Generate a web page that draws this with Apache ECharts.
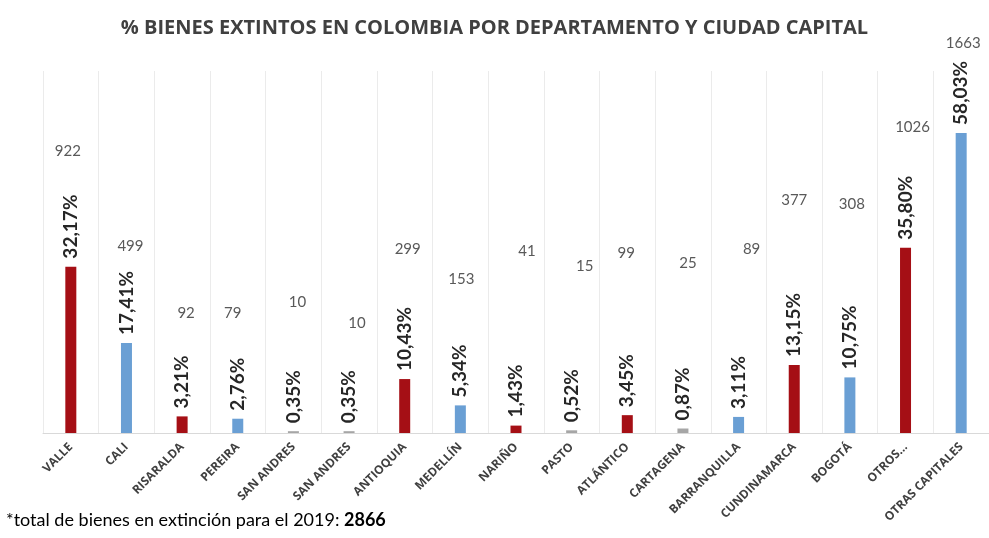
<!DOCTYPE html>
<html>
<head>
<meta charset="utf-8">
<script src="https://cdn.jsdelivr.net/npm/echarts@6/dist/echarts.min.js"></script>
<style>
html,body{margin:0;padding:0;background:#fff;}
#chart{width:989px;height:538px;}
</style>
</head>
<body>
<div id="chart"></div>
<script>
// ---- data ----
var categories = ['VALLE','CALI','RISARALDA','PEREIRA','SAN ANDRES','SAN ANDRES','ANTIOQUIA','MEDELLÍN','NARIÑO','PASTO','ATLÁNTICO','CARTAGENA','BARRANQUILLA','CUNDINAMARCA','BOGOTÁ','OTROS…','OTRAS CAPITALES'];
var percentages = [32.17,17.41,3.21,2.76,0.35,0.35,10.43,5.34,1.43,0.52,3.45,0.87,3.11,13.15,10.75,35.80,58.03];
var counts = [922,499,92,79,10,10,299,153,41,15,99,25,89,377,308,1026,1663];
var kinds = ['dep','cap','dep','cap','dep','cap','dep','cap','dep','cap','dep','cap','cap','dep','cap','dep','cap'];
var totalCount = 2866;

// ---- layout / style (not data) ----
var countLift = [115,97,103,106,129,108,130,126,174,164,162,165,168,165,173,121,90];
var countShift = [-3,4,4,-5,4,8,3,1,11,13,-1,5,13,0,2,7,2];
var RED = '#A50F15', BLUE = '#6A9FD4', GRAY = '#A6A6A6';

function fmtPct(v){ return v.toFixed(2).replace('.', ',') + '%'; }

var pctData = percentages.map(function(v, i){
  var c = v < 1 ? GRAY : (kinds[i] === 'dep' ? RED : BLUE);
  return { value: v, itemStyle: { color: c } };
});
var countData = percentages.map(function(v, i){
  return {
    value: v,
    label: { formatter: String(counts[i]), offset: [countShift[i], -countLift[i]] }
  };
});

var chart = echarts.init(document.getElementById('chart'), null, {renderer:'canvas'});
chart.setOption({
  animation: false,
  backgroundColor: '#ffffff',
  title: {
    text: '% BIENES EXTINTOS EN COLOMBIA POR DEPARTAMENTO Y CIUDAD CAPITAL',
    left: 'center', top: 13,
    textStyle: { fontFamily: 'Open Sans', fontWeight: 'bold', fontSize: 20, color: '#404040' }
  },
  graphic: [{
    type: 'text', left: 6, top: 511,
    style: {
      text: '{a|*total de bienes en extinción para el 2019: }{b|' + totalCount + '}',
      rich: {
        a: { fontFamily: 'Lato', fontSize: 18, color: '#404040' },
        b: { fontFamily: 'Lato', fontSize: 18, fontWeight: 'bold', color: '#262626' }
      }
    }
  }],
  grid: { left: 43, right: 0, top: 71, bottom: 105 },
  xAxis: {
    type: 'category', data: categories,
    axisLine: { lineStyle: { color: '#D9D9D9', width: 1 } },
    axisTick: { show: false },
    splitLine: { show: true, lineStyle: { color: '#EBEBEB', width: 1 } },
    axisLabel: {
      interval: 0, rotate: 45, margin: 12,
      fontFamily: 'Open Sans', fontWeight: 'bold', fontSize: 12, color: '#404040'
    }
  },
  yAxis: {
    type: 'value', min: 0, max: 70, show: false,
    splitLine: { show: false }
  },
  series: [
    {
      type: 'bar', data: countData, barWidth: 11, barGap: '-100%', z: 1,
      itemStyle: { color: 'rgba(0,0,0,0)' },
      label: {
        show: true, position: 'top', distance: 0, verticalAlign: 'middle',
        fontFamily: 'Lato', fontSize: 15, color: '#595959'
      }
    },
    {
      type: 'bar', data: pctData, barWidth: 11, z: 2,
      label: {
        show: true, position: 'top', rotate: 90, align: 'left', verticalAlign: 'middle',
        distance: 8, formatter: function(p){ return fmtPct(p.value); },
        fontFamily: 'Lato', fontWeight: 'bold', fontSize: 19, color: '#262626'
      }
    }
  ]
});
</script>
</body>
</html>
